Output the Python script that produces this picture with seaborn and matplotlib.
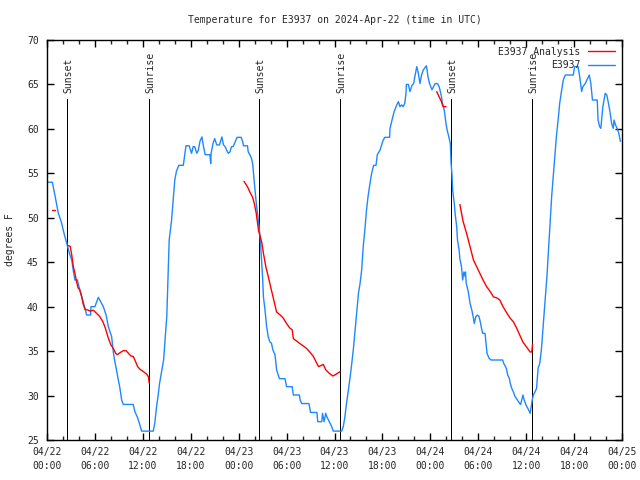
import numpy as np
import pandas as pd
import matplotlib
matplotlib.use("Agg")
import matplotlib.pyplot as plt
from matplotlib.lines import Line2D
import seaborn as sns

# ---------------- data ----------------
title = "Temperature for E3937 on 2024-Apr-22 (time in UTC)"
ylabel = "degrees F"
series_names = ["E3937 Analysis", "E3937"]
series_colors = ["#ff0000", "#1e88ff"]

# hours since 2024-04-22 00:00 UTC
obs_hours = [0, 0.67, 1.0, 1.42, 1.8, 2.2, 2.55, 2.8, 3.1, 3.3, 3.5, 3.8, 4.1, 4.35, 4.7, 4.96, 5.46, 5.5, 6.0,
             6.43, 7.05, 7.4, 7.68, 8.1, 8.3, 8.5, 8.7, 8.9, 9.1, 9.35, 9.55, 10.8, 11.0, 11.3, 11.56, 11.85,
             13.3, 13.5, 13.7, 13.9, 14.1, 14.6, 15.0, 15.3, 15.6, 15.8, 16.0, 16.2, 16.5, 17.07, 17.3, 17.4,
             17.8, 18.1, 18.3, 18.5, 18.75, 18.95, 19.15, 19.4, 19.6, 19.8, 20.4, 20.5, 20.55, 20.8, 21.0,
             21.25, 21.6, 21.9, 22.1, 22.3, 22.5, 22.7, 22.9, 23.1, 23.3, 23.5, 23.8, 24.3, 24.5, 24.6, 25.1,
             25.2, 25.4, 25.6, 25.75, 25.9, 26.05, 26.25, 26.46, 26.7, 26.85, 27.0, 27.1, 27.3, 27.5, 27.7,
             27.9, 28.1, 28.3, 28.55, 28.75, 29.1, 29.8, 30.0, 30.7, 30.85, 31.6, 31.7, 31.9, 32.8, 33.0,
             33.8, 33.9, 34.4, 34.5, 34.7, 34.9, 35.05, 35.35, 35.65, 35.85, 36.9, 37.1, 37.3, 37.5, 37.8,
             38.07, 38.35, 38.7, 39.0, 39.2, 39.4, 39.6, 39.8, 40.0, 40.2, 40.45, 40.65, 40.9, 41.2, 41.36,
             41.7, 41.9, 42.1, 42.3, 42.9, 42.95, 43.2, 43.45, 43.8, 44.0, 44.2, 44.4, 44.6, 44.8, 44.95,
             45.0, 45.25, 45.45, 45.7, 45.9, 46.1, 46.3, 46.5, 46.7, 46.9, 47.1, 47.5, 47.6, 47.7, 47.9,
             48.2, 48.4, 48.6, 48.9, 49.1, 49.2, 49.4, 49.5, 49.7, 49.8, 49.96, 50.1, 50.26, 50.5, 50.6,
             50.7, 50.8, 51.0, 51.1, 51.3, 51.4, 51.6, 51.7, 51.9, 52.05, 52.2, 52.35, 52.4, 52.5, 52.75,
             52.97, 53.2, 53.4, 53.5, 53.7, 53.9, 54.1, 54.3, 54.4, 54.55, 54.85, 55.0, 55.1, 55.35, 55.6,
             57.05, 57.2, 57.5, 57.7, 57.9, 58.0, 58.2, 58.4, 58.6, 58.9, 59.2, 59.3, 59.6, 59.75, 60.0,
             60.3, 60.5, 60.6, 60.76, 60.9, 61.1, 61.3, 61.5, 61.7, 61.9, 62.1, 62.35, 62.6, 62.8, 63.0,
             63.2, 63.4, 63.6, 63.8, 64.0, 64.2, 64.45, 64.65, 64.9, 65.9, 66.06, 66.5, 66.7, 66.95, 67.1,
             67.4, 67.6, 67.9, 68.1, 68.3, 68.9, 69.0, 69.2, 69.35, 69.6, 69.9, 70.1, 70.3, 70.5, 70.7,
             70.9, 71.0, 71.2, 71.4, 71.6, 71.8]
obs_temps = [54.0, 54.0, 52.5, 50.5, 49.5, 48.0, 46.9, 46.0, 45.25, 44.0, 43.0, 43.0, 41.9, 41.1, 40.0, 39.06,
             39.06, 40.0, 40.0, 41.05, 40.0, 39.06, 37.75, 36.6, 34.9, 33.8, 32.9, 31.9, 31.0, 29.5, 29.0,
             29.0, 28.2, 27.6, 26.9, 26.0, 26.0, 26.9, 28.6, 29.9, 31.4, 34.0, 38.9, 47.5, 49.75, 52.0,
             54.25, 55.2, 55.9, 55.9, 57.4, 58.1, 58.1, 57.25, 58.0, 58.0, 57.25, 57.6, 58.6, 59.1, 58.0,
             57.1, 57.1, 56.1, 57.25, 58.4, 58.9, 58.2, 58.2, 59.1, 58.2, 58.0, 57.6, 57.25, 57.4, 58.0,
             58.0, 58.4, 59.05, 59.05, 58.6, 58.1, 58.1, 57.4, 57.1, 56.7, 56.1, 54.6, 53.1, 51.25, 49.75,
             47.7, 45.5, 43.2, 41.1, 39.6, 37.75, 36.6, 36.06, 35.9, 35.1, 34.6, 32.9, 31.9, 31.9, 31.0,
             31.0, 30.06, 30.06, 29.5, 29.1, 29.1, 28.1, 28.1, 27.06, 27.06, 28.0, 27.06, 28.0, 27.6,
             27.06, 26.5, 26.0, 26.0, 26.5, 27.6, 29.1, 31.0, 32.9, 35.1, 38.5, 41.5, 42.6, 44.1, 46.8,
             48.6, 50.8, 52.4, 53.9, 55.0, 55.9, 55.9, 57.1, 57.6, 58.2, 58.75, 59.05, 59.05, 60.06, 61.0,
             61.9, 62.7, 63.06, 62.5, 62.7, 62.5, 62.9, 64.0, 65.0, 65.0, 64.2, 64.9, 65.1, 66.06, 67.0,
             66.25, 65.1, 66.06, 66.6, 67.1, 66.6, 65.9, 65.1, 64.4, 64.75, 65.1, 65.1, 64.75, 64.4, 63.6,
             62.9, 62.3, 61.75, 60.6, 59.9, 59.3, 58.4, 56.1, 55.0, 53.1, 51.6, 50.5, 49.0, 47.5, 46.4,
             45.4, 44.5, 43.0, 43.9, 43.4, 43.9, 42.6, 41.7, 40.4, 39.6, 38.7, 38.1, 38.9, 39.06, 38.9,
             38.1, 37.6, 37.0, 37.0, 35.7, 34.75, 34.2, 34.0, 34.0, 33.6, 33.1, 32.3, 31.9, 31.4, 30.8,
             30.4, 29.9, 29.5, 29.1, 29.0, 30.06, 29.5, 28.9, 28.4, 28.0, 28.6, 29.5, 30.06, 30.4, 30.8,
             33.1, 33.6, 35.1, 37.5, 40.5, 43.4, 46.5, 49.8, 52.5, 54.8, 57.0, 59.3, 61.0, 62.9, 64.4,
             65.5, 66.06, 66.06, 67.0, 67.0, 65.9, 64.2, 64.75, 65.1, 65.5, 66.06, 65.1, 63.25, 63.25,
             61.0, 60.25, 60.06, 62.5, 64.0, 63.8, 62.9, 61.9, 60.6, 60.06, 61.0, 60.4, 60.06, 59.5, 58.6]

# analysis series (NaN = gap)
ana_hours = [0.67, 1.0, np.nan,
             2.55, 2.9, 3.1, 3.3, 3.5, 3.7, 3.9, 4.1, 4.35, 4.5, 4.75, 5.2, 5.4, 5.8, 6.2, 6.6, 7.0, 7.3,
             7.5, 7.7, 8.0, 8.3, 8.6, 8.8, 9.1, 9.55, 9.9, 10.2, 10.5, 10.8, 11.1, 11.35, 11.65, 12.06,
             12.5, 12.7, 12.8, np.nan,
             24.67, 25.1, 25.4, 25.75, 25.96, 26.2, 26.5, 26.7, 26.9, 27.1, 27.4, 27.7, 28.0, 28.3, 28.75,
             29.2, 29.6, 30.0, 30.4, 30.7, 30.85, 31.3, 31.9, 32.5, 32.9, 33.35, 33.8, 34.0, 34.6, 34.9,
             35.35, 35.8, 36.2, 36.7, np.nan,
             48.8, 49.1, 49.4, 49.6, 49.96, np.nan,
             51.7, 52.1, 52.55, 52.97, 53.4, 53.8, 54.2, 54.6, 55.05, 55.5, 55.9, 56.3, 56.7, 57.1, 57.6,
             58.0, 58.4, 58.8, 59.2, 59.6, 60.1, 60.5, 60.7, 60.8]
ana_temps = [50.9, 50.9, np.nan,
             46.9, 46.8, 45.8, 44.5, 43.75, 42.8, 42.1, 41.9, 41.1, 40.4, 39.7, 39.6, 39.5, 39.6, 39.25,
             38.9, 38.3, 37.6, 37.0, 36.4, 35.7, 35.3, 34.75, 34.6, 34.8, 35.05, 35.05, 34.75, 34.45, 34.4,
             33.8, 33.25, 32.95, 32.7, 32.4, 32.1, 31.4, np.nan,
             54.1, 53.5, 52.9, 52.3, 51.6, 50.5, 48.5, 47.9, 47.2, 46.0, 44.5, 43.4, 42.25, 41.1, 39.4,
             39.06, 38.7, 38.1, 37.6, 37.4, 36.4, 36.1, 35.7, 35.3, 34.9, 34.4, 33.6, 33.25, 33.5, 32.9,
             32.5, 32.2, 32.4, 32.7, np.nan,
             64.2, 63.6, 63.06, 62.5, 62.5, np.nan,
             51.5, 49.6, 48.2, 46.75, 45.25, 44.5, 43.75, 43.0, 42.25, 41.7, 41.1, 41.0, 40.75, 40.0, 39.25,
             38.7, 38.3, 37.6, 36.8, 36.0, 35.4, 34.9, 34.9, 35.8]

sun_labels = ["Sunset", "Sunrise", "Sunset", "Sunrise", "Sunset", "Sunrise"]
sun_hours = [2.52, 12.78, 26.57, 36.75, 50.6, 60.77]

xtick_hours = list(range(0, 73, 6))
xtick_labels = ["04/22\n00:00", "04/22\n06:00", "04/22\n12:00", "04/22\n18:00",
                "04/23\n00:00", "04/23\n06:00", "04/23\n12:00", "04/23\n18:00",
                "04/24\n00:00", "04/24\n06:00", "04/24\n12:00", "04/24\n18:00", "04/25\n00:00"]
ytick_values = [25, 30, 35, 40, 45, 50, 55, 60, 65, 70]

# ---------------- plot ----------------
sns.set_style("ticks")
plt.rcParams["font.family"] = ["DejaVu Sans Mono"]
plt.rcParams["font.size"] = 7

fig = plt.figure(figsize=(6.4, 4.8), dpi=100)
ax = fig.add_axes([47 / 640, 40 / 480, 575 / 640, 400 / 480])

obs_df = pd.DataFrame({"hour": obs_hours, "temp": obs_temps})
ana_df = pd.DataFrame({"hour": ana_hours, "temp": ana_temps})
ana_df["seg"] = ana_df["hour"].isna().cumsum()
ana_df = ana_df.dropna()

sns.lineplot(data=obs_df, x="hour", y="temp", color=series_colors[1], lw=1.0,
             sort=False, estimator=None, ax=ax, legend=False)
sns.lineplot(data=ana_df, x="hour", y="temp", units="seg", color=series_colors[0], lw=1.0,
             sort=False, estimator=None, ax=ax, legend=False)

ax.vlines(sun_hours, 25, 63.4, color="black", lw=0.5, zorder=1, antialiased=False)
for h, lab in zip(sun_hours, sun_labels):
    ax.text(h + 0.15, 64.0, lab, rotation=90, ha="center", va="bottom", fontsize=7)

ax.set_xlim(0, 72)
ax.set_ylim(25, 70)
ax.set_xticks(xtick_hours)
ax.set_xticklabels(xtick_labels, linespacing=1.55)
ax.set_xticks(list(range(0, 73, 2)), minor=True)
ax.set_yticks(ytick_values)
ax.set_yticklabels([str(v) for v in ytick_values])
ax.tick_params(axis="both", which="major", direction="in", length=5, width=1,
               top=True, right=True, labelsize=7, color="black")
ax.tick_params(axis="x", which="major", pad=5)
ax.tick_params(axis="y", which="major", pad=6)
ax.tick_params(axis="x", which="minor", direction="in", length=3, width=1, top=True)
for s in ax.spines.values():
    s.set_visible(True)
    s.set_color("black")
    s.set_linewidth(1.0)

ax.set_xlabel("")
ax.set_ylabel("")
fig.text(10 / 640, 0.5, ylabel, rotation=90, ha="center", va="center", fontsize=7)
fig.text(334.5 / 640, 1 - 20 / 480, title, ha="center", va="center", fontsize=7)

handles = [Line2D([], [], color=series_colors[0], lw=1.0),
           Line2D([], [], color=series_colors[1], lw=1.0)]
ax.legend(handles, series_names, loc="upper right", frameon=False, markerfirst=False,
          handlelength=2.8, handletextpad=0.8, labelspacing=0.35, borderaxespad=0.3,
          fontsize=7)

fig.savefig("out.png", dpi=100)
